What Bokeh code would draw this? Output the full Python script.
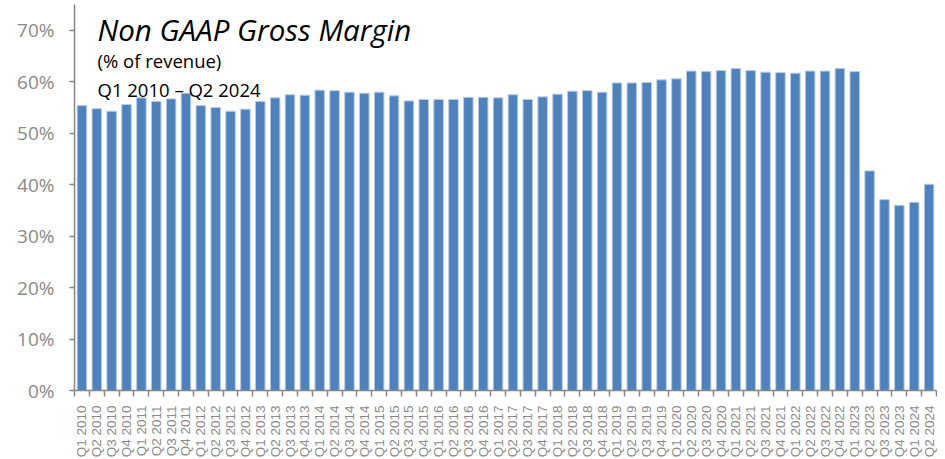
from bokeh.plotting import figure
from bokeh.models import Range1d, FixedTicker, NumeralTickFormatter, Label, ColumnDataSource
from bokeh.embed import file_html
from bokeh.resources import INLINE
import math

years = list(range(2010, 2025))
quarters = [f"Q{q} {y}" for y in years for q in range(1, 5)][:58]

margin = [55.4, 54.8, 54.3, 55.6, 56.9, 56.2, 56.7, 57.8, 55.4, 55.0,
          54.3, 54.7, 56.2, 56.9, 57.5, 57.4, 58.4, 58.3, 58.0, 57.8,
          58.0, 57.3, 56.3, 56.6, 56.6, 56.6, 57.0, 57.0, 56.9, 57.5,
          56.6, 57.1, 57.6, 58.2, 58.3, 58.0, 59.8, 59.8, 59.9, 60.4,
          60.6, 62.1, 62.0, 62.2, 62.6, 62.2, 61.9, 61.8, 61.7, 62.1,
          62.1, 62.6, 62.0, 42.7, 37.1, 36.0, 36.6, 40.1]

y_ticks = [0, 0.1, 0.2, 0.3, 0.4, 0.5, 0.6, 0.7]

title_text = "Non GAAP Gross Margin"
sub1 = "(% of revenue)"
sub2 = "Q1 2010 \u2013 Q2 2024"

idx = list(range(len(quarters)))
src = ColumnDataSource(dict(x=idx, top=[v / 100 for v in margin], label=quarters))

p = figure(width=937, height=458, output_backend="svg", toolbar_location=None,
           x_range=Range1d(-0.5, len(quarters) - 0.5), y_range=Range1d(0, 0.7505),
           frame_width=862, frame_height=386,
           min_border_left=74, min_border_right=1, min_border_top=4, min_border_bottom=68)
p.outline_line_color = None
p.xgrid.visible = False
p.ygrid.visible = False
p.background_fill_color = "white"
p.border_fill_color = "white"

p.vbar(x="x", top="top", width=0.64, source=src, fill_color="#4F81BD",
       line_color="#B7CBE6", line_width=1)

axc = "#868686"
# y axis
ya = p.yaxis[0]
ya.ticker = FixedTicker(ticks=y_ticks)
ya.formatter = NumeralTickFormatter(format="0%")
ya.axis_line_color = axc
ya.axis_line_width = 1.5
ya.major_tick_line_color = axc
ya.major_tick_line_width = 1.5
ya.major_tick_out = 5
ya.major_tick_in = 0
ya.minor_tick_line_color = None
ya.major_label_standoff = 15
ya.major_label_text_font = "Open Sans"
ya.major_label_text_font_size = "19px"
ya.major_label_text_color = "#8a8a8a"

# x axis
xa = p.xaxis[0]
xa.ticker = FixedTicker(ticks=idx, minor_ticks=[i - 0.5 for i in range(len(quarters) + 1)])
xa.major_label_overrides = {i: q for i, q in enumerate(quarters)}
xa.major_label_orientation = math.pi / 2
xa.axis_line_color = axc
xa.axis_line_width = 1.5
xa.major_tick_line_color = None
xa.major_tick_out = 0
xa.major_tick_in = 0
xa.minor_tick_line_color = axc
xa.minor_tick_line_width = 1.5
xa.minor_tick_out = 6
xa.minor_tick_in = 0
xa.major_label_standoff = 9
xa.major_label_text_font = "Liberation Sans"
xa.major_label_text_font_size = "13.5px"
xa.major_label_text_color = "#8a8a8a"

px = 1 / 515.0
xpos = -0.5 + 23 / 14.86
p.add_layout(Label(x=xpos, y=(390.5 - 29) * px, text=title_text, text_font="Open Sans",
                   text_font_style="italic", text_font_size="29.5px", text_color="black",
                   text_baseline="alphabetic"))
p.add_layout(Label(x=xpos, y=(390.5 - 60) * px, text=sub1, text_font="Open Sans",
                   text_font_size="18.5px", text_color="black", text_baseline="alphabetic"))
p.add_layout(Label(x=xpos, y=(390.5 - 89.3) * px, text=sub2, text_font="Open Sans",
                   text_font_size="18.5px", text_color="black", text_baseline="alphabetic"))

open("out.html", "w").write(file_html(p, INLINE))
